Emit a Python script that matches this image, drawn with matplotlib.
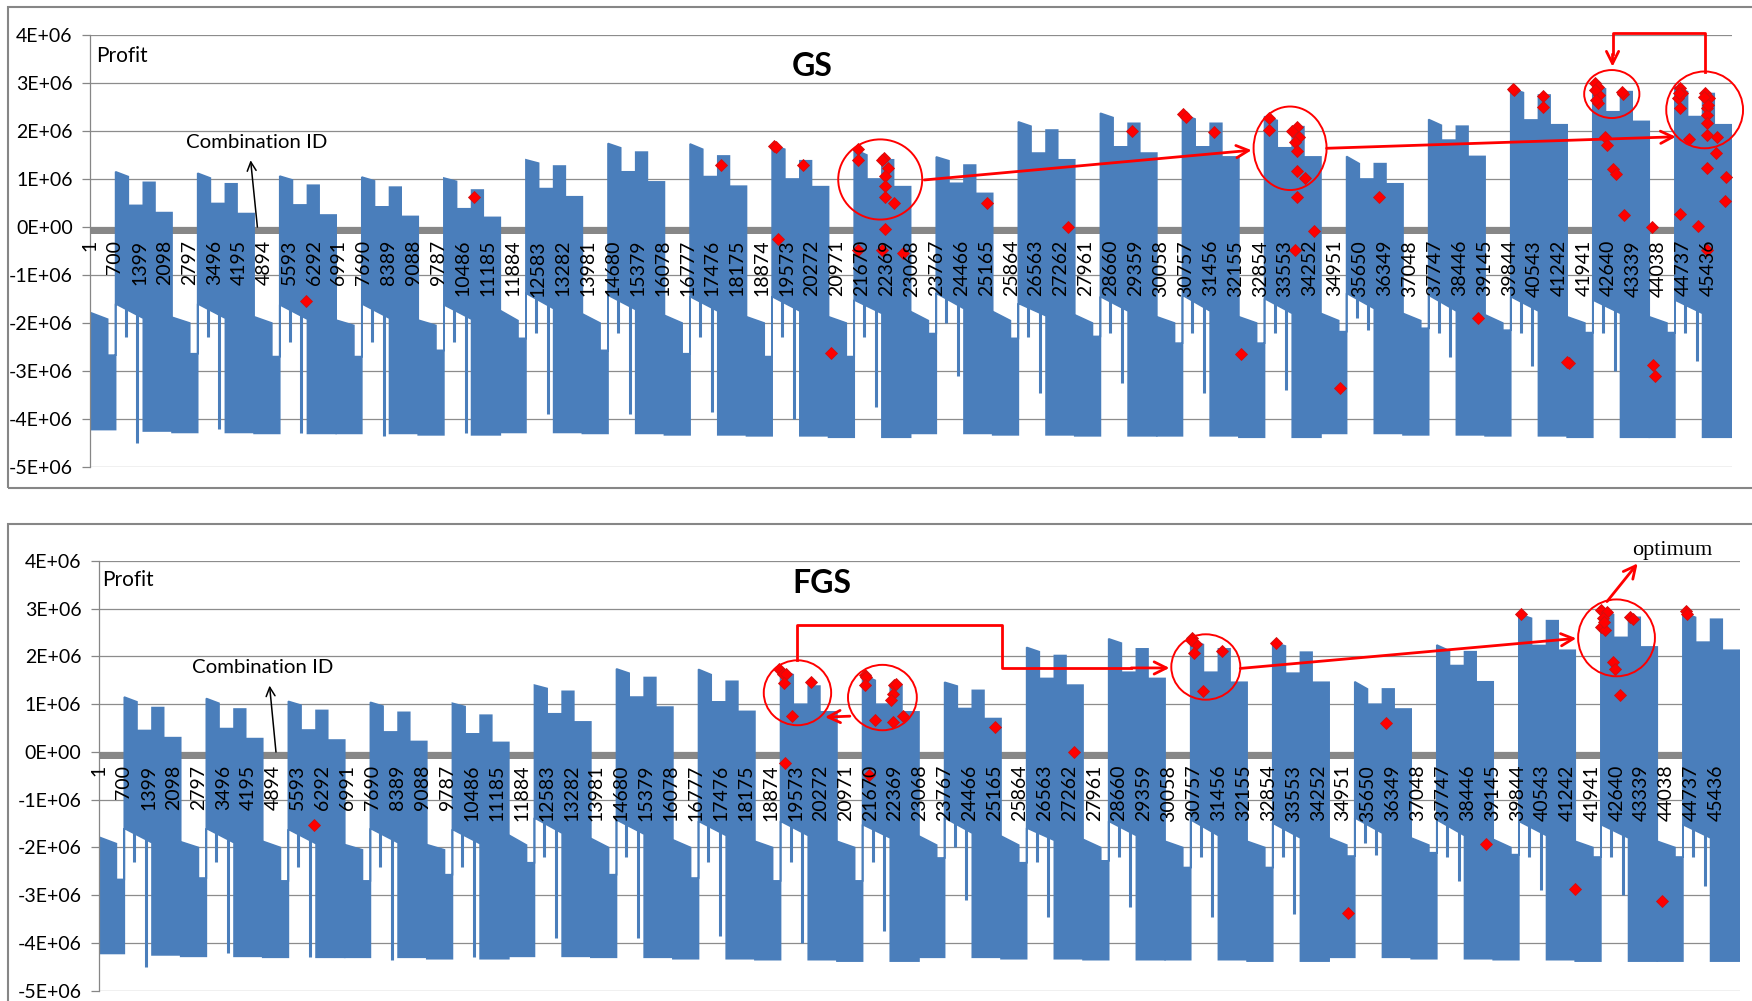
import matplotlib
matplotlib.use("Agg")
import matplotlib.pyplot as plt
from matplotlib.patches import Ellipse, Rectangle
import numpy as np

plt.rcParams['font.family'] = ['Lato', 'DejaVu Sans']

W, H = 1752, 1001
BLUE = '#4A7EBB'

# ---- profit data, in millions, read per block ----
# each period of 2304 combination ids = a low part followed by a high part
PERIOD = 2304
LOW_SPLIT = 497                       # low part steps down here
HIGH_EDGES = [720, 1076, 1498, 1825, 2304]  # sub-steps of the high part
SPIKE_AT = [1000, 1330]

low_a0 = [-1.78, -1.88, -1.87, -1.94, -1.94, -1.74, -1.81, -1.84, -1.87, -1.87,
          -1.76, -1.76, -1.83, -1.87, -1.87, -1.80, -1.80, -1.83, -1.87, -1.87]
low_a1 = [-1.92, -2.00, -2.00, -2.05, -2.05, -1.95, -2.00, -2.00, -2.00, -2.00,
          -1.95, -1.95, -2.00, -2.00, -2.00, -1.95, -1.95, -2.00, -2.00, -2.00]
low_b = [-2.67, -2.64, -2.70, -2.70, -2.57, -2.32, -2.57, -2.64, -2.70, -2.70,
         -2.22, -2.32, -2.28, -2.42, -2.42, -2.18, -2.11, -2.15, -2.20, -2.20]
low_bot = [-4.22, -4.28, -4.30, -4.30, -4.33, -4.28, -4.30, -4.33, -4.35, -4.38,
           -4.30, -4.33, -4.35, -4.35, -4.38, -4.30, -4.33, -4.35, -4.38, -4.38]

high_a0 = [1.15, 1.12, 1.06, 1.04, 1.02, 1.40, 1.74, 1.73, 1.71, 1.62,
           1.46, 2.19, 2.37, 2.35, 2.30, 1.47, 2.24, 2.89, 2.99, 2.92]
high_a1 = [1.05, 1.02, 0.98, 0.96, 0.95, 1.33, 1.65, 1.62, 1.62, 1.50,
           1.38, 2.10, 2.28, 2.25, 2.22, 1.32, 2.12, 2.80, 2.88, 2.82]
high_b = [0.45, 0.49, 0.46, 0.42, 0.38, 0.80, 1.15, 1.05, 1.00, 1.00,
          0.91, 1.54, 1.67, 1.67, 1.65, 1.00, 1.81, 2.23, 2.40, 2.30]
high_c = [0.93, 0.90, 0.87, 0.83, 0.77, 1.27, 1.56, 1.48, 1.38, 1.40,
          1.29, 2.02, 2.16, 2.16, 2.09, 1.32, 2.10, 2.75, 2.82, 2.78]
high_d = [0.30, 0.28, 0.25, 0.22, 0.20, 0.63, 0.94, 0.85, 0.84, 0.84,
          0.70, 1.40, 1.54, 1.46, 1.46, 0.90, 1.47, 2.13, 2.20, 2.13]
up_bot0 = [-1.60, -1.60, -1.62, -1.60, -1.62, -1.38, -1.42, -1.45, -1.45, -1.52,
           -1.38, -1.59, -1.45, -1.42, -1.49, -1.38, -1.42, -1.45, -1.52, -1.52]
up_bot1 = [-1.90, -1.90, -1.92, -1.90, -1.92, -1.70, -1.72, -1.75, -1.75, -1.80,
           -1.70, -1.85, -1.75, -1.75, -1.80, -1.70, -1.75, -1.75, -1.80, -1.80]
d_bot = [-4.25, -4.28, -4.30, -4.30, -4.33, -4.28, -4.30, -4.33, -4.35, -4.38,
         -4.30, -4.33, -4.35, -4.35, -4.38, -4.30, -4.33, -4.35, -4.38, -4.38]
spike_mid = [-2.3, -2.3, -2.4, -2.4, -2.4, -2.2, -2.2, -2.3, -2.3, -2.3,
             -2.0, -2.3, -2.2, -2.2, -2.2, -1.9, -2.2, -2.2, -2.2, -2.2]
spike_deep = [-4.5, -4.2, -4.3, -4.35, -4.3, -3.9, -3.9, -3.85, -4.0, -3.75,
              -3.1, -3.45, -3.25, -3.45, -3.4, -2.15, -2.7, -2.9, -3.0, -2.8]

tick_ids = list(range(1, 45437, 699))

# red points (combination id, profit in millions)
gs_ids = [6057, 10781, 17716, 19200, 19260, 19308, 20027, 20804, 21570, 21570,
          22301, 22250, 22394, 22330, 22330, 22330, 22573, 22330, 22834, 21552, 22226,
          25174, 27449, 29264, 30680, 30760, 31566, 32314, 33101, 33101,
          33876, 33941, 33829, 33876, 33736, 33876, 34111, 33876, 34364, 33829, 35094,
          36197, 38977, 39988, 39950, 40784, 40784, 41531, 41480,
          42252, 42327, 42374, 42327, 42252, 42290, 43047, 43000,
          42533, 42580, 42767, 42840, 43076, 43844, 43870, 43935,
          44638, 44591, 44638, 44685, 44610,
          45339, 45460, 45386, 45386, 45405, 45386, 45666, 45320, 45440,
          44899, 45648, 45386, 45929, 45900, 44638, 45152, 45386]
gs_vals = [-1.535, 0.62, 1.29, 1.68, 1.66, -0.24, 1.29, -2.63, 1.62, 1.40,
           1.43, 1.40, 1.23, 1.07, 0.86, 0.63, 0.49, -0.05, -0.55, -0.47, -0.48,
           0.51, -0.01, 1.99, 2.36, 2.30, 1.97, -2.65, 2.27, 2.02,
           2.09, 1.87, 1.78, 1.59, 2.00, 1.17, 1.02, 0.62, -0.08, -0.48, -3.36,
           0.62, -1.90, 2.85, 2.88, 2.73, 2.49, -2.84, -2.82,
           2.99, 2.92, 2.75, 2.58, 2.85, 2.65, 2.78, 2.82,
           1.88, 1.71, 1.20, 1.10, 0.26, -0.01, -2.87, -3.10,
           2.89, 2.68, 2.47, 2.79, 2.80,
           2.79, 2.68, 2.47, 2.34, 2.16, 1.92, 1.88, 2.70, 2.55,
           1.83, 1.55, 1.22, 1.05, 0.54, 0.28, 0.02, -0.48]

fgs_ids = [6057, 19110, 19218, 19300, 19235, 20005, 19487, 19270,
           21529, 21560, 21529, 21800, 22313, 22605, 22335, 22313, 22260, 22390, 21636,
           25165, 27408, 30718, 30824, 30770, 30680, 31560, 31024, 33068,
           35085, 36164, 38967, 39936, 41470,
           42200, 42363, 42260, 42200, 42320, 42280, 43010, 43090,
           42525, 42580, 42741, 43906, 44573, 44620]
fgs_vals = [-1.53, 1.73, 1.64, 1.63, 1.45, 1.47, 0.75, -0.24,
            1.61, 1.57, 1.41, 0.68, 0.63, 0.75, 1.40, 1.22, 1.08, 1.43, -0.49,
            0.52, -0.01, 2.38, 2.27, 2.08, 2.34, 2.12, 1.27, 2.29,
            -3.38, 0.61, -1.92, 2.90, -2.87,
            2.97, 2.94, 2.80, 2.62, 2.55, 2.73, 2.82, 2.78,
            1.89, 1.73, 1.20, -3.12, 2.95, 2.90]

M = 1e6
fig = plt.figure(figsize=(W / 100, H / 100), dpi=100)
fig.patch.set_facecolor('white')


def px_axes(left, right, top, bottom):
    return fig.add_axes([left / W, 1 - bottom / H, (right - left) / W, (bottom - top) / H])


def draw_panel(ax, ids, vals, title, title_pos, profit_pos, combo_pos):
    ax.set_xlim(1, 46100)
    ax.set_ylim(-5 * M, 4 * M)
    for s in ['top', 'right', 'bottom']:
        ax.spines[s].set_visible(False)
    ax.spines['left'].set_color('#868686')
    ax.spines['left'].set_linewidth(0.9)
    ax.set_xticks([])
    yt = np.arange(-5, 5) * M
    ax.set_yticks(yt)
    ax.set_yticklabels([format(v, '.0E') for v in yt])
    ax.tick_params(axis='y', length=5.5, width=0.9, color='#868686', labelsize=14, pad=7)
    ax.grid(axis='y', color='#8C8C8C', lw=0.9)
    ax.set_axisbelow(True)
    ax.axhspan(-0.14 * M, 0, color='#878787', lw=0, zorder=1.5)

    for k in range(len(high_a0)):
        b = k * PERIOD
        e = [b + v for v in HIGH_EDGES]
        s = b + LOW_SPLIT
        xs = [b, s, s, e[0], e[0], e[1], e[1], e[2], e[2], e[3], e[3], e[4],
              e[4], e[2], e[2], e[0], e[0], b]
        ys = [low_a0[k], low_a1[k], low_b[k], low_b[k], high_a0[k], high_a1[k],
              high_b[k], high_b[k], high_c[k], high_c[k], high_d[k], high_d[k],
              d_bot[k], d_bot[k], up_bot1[k], up_bot0[k], low_bot[k], low_bot[k]]
        ax.fill(xs, np.array(ys) * M, color=BLUE, ec=BLUE, lw=1.2, zorder=2)
        ax.vlines([b + SPIKE_AT[0], b + SPIKE_AT[1]], up_bot0[k] * M,
                  [spike_mid[k] * M, spike_deep[k] * M], color=BLUE, lw=2.2, zorder=2)

    ax.plot(ids, np.array(vals) * M, ls='none', marker='D', ms=6,
            mfc='#FF0000', mec='#D01010', mew=0.6, zorder=4)

    for t in tick_ids:
        ax.text(t, -0.27 * M, str(t), rotation=90, ha='center', va='top',
                fontsize=14, zorder=5)

    ax.text(title_pos[0], title_pos[1] * M, title, ha='center', va='center',
            fontsize=23, fontweight='bold', zorder=6)
    ax.text(profit_pos[0], profit_pos[1] * M, 'Profit', ha='left', va='center',
            fontsize=15, zorder=6)
    ax.text(combo_pos[0], combo_pos[1] * M, 'Combination ID', ha='center',
            va='center', fontsize=14.7, zorder=6)


def red_arrow(ax, tail, tip, lw=2.0):
    ax.annotate('', xy=(tip[0], tip[1] * M), xytext=(tail[0], tail[1] * M),
                arrowprops=dict(arrowstyle='->', color='red', lw=lw,
                                mutation_scale=22, shrinkA=0, shrinkB=0),
                annotation_clip=False, zorder=6)


def red_circle(ax, c, w, h):
    ax.add_patch(Ellipse((c[0], c[1] * M), w, h * M, fill=False, ec='red',
                         lw=1.4, zorder=6, clip_on=False))


# ---------- GS ----------
ax1 = px_axes(90, 1732, 35, 467)
draw_panel(ax1, gs_ids, gs_vals, 'GS', (20284, 3.34), (160, 3.57), (4680, 1.76))
ax1.annotate('', xy=(4510, 1.39 * M), xytext=(4700, 0.0),
             arrowprops=dict(arrowstyle='->', color='black', lw=1.1,
                             mutation_scale=16, shrinkA=0, shrinkB=0), zorder=6)
red_circle(ax1, (22186, 0.99), 2358, 1.67)
red_circle(ax1, (33693, 1.64), 2049, 1.74)
red_circle(ax1, (42725, 2.77), 1550, 1.00)
red_circle(ax1, (45332, 2.44), 2156, 1.60)
red_arrow(ax1, (23426, 0.98), (32614, 1.60))
red_arrow(ax1, (34718, 1.64), (44524, 1.88))
ax1.plot([45353, 45353, 42746, 42746], np.array([3.235, 4.035, 4.035, 3.6]) * M,
         color='red', lw=2, clip_on=False, zorder=6)
red_arrow(ax1, (42746, 3.6), (42746, 3.34))

# ---------- FGS ----------
ax2 = px_axes(98.7, 1740, 561, 990.7)
draw_panel(ax2, fgs_ids, fgs_vals, 'FGS', (20320, 3.53), (110, 3.6), (4616, 1.77))
ax2.annotate('', xy=(4800, 1.39 * M), xytext=(4980, 0.0),
             arrowprops=dict(arrowstyle='->', color='black', lw=1.1,
                             mutation_scale=16, shrinkA=0, shrinkB=0), zorder=6)
red_circle(ax2, (19627, 1.24), 1893, 1.36)
red_circle(ax2, (22013, 1.14), 1933, 1.37)
red_circle(ax2, (31096, 1.78), 1938, 1.37)
red_circle(ax2, (42632, 2.39), 2157, 1.61)
ax2.plot([19627, 19627, 25378, 25378, 29000], np.array([1.92, 2.66, 2.66, 1.76, 1.76]) * M,
         color='red', lw=2, clip_on=False, zorder=6)
red_arrow(ax2, (29000, 1.76), (30075, 1.76))
red_arrow(ax2, (21099, 0.75), (20400, 0.73))
red_arrow(ax2, (32065, 1.75), (41502, 2.38))
red_arrow(ax2, (42363, 3.15), (43225, 3.95))
ax2.text(44202, 4.21 * M, 'optimum', family='Liberation Serif', fontsize=16,
         ha='center', va='center', zorder=6, clip_on=False)

# chart area borders
for top, bottom in [(6.7, 488.3), (524, 1010)]:
    fig.add_artist(Rectangle((7.7 / W, 1 - bottom / H), 1.2, (bottom - top) / H,
                             transform=fig.transFigure, fill=False,
                             ec='#868686', lw=1.5))

fig.savefig('out.png', dpi=100)
